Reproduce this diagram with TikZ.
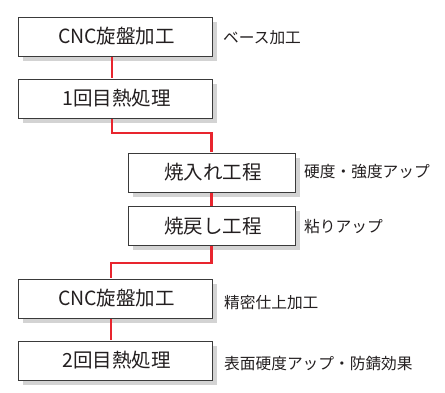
\documentclass[tikz,border=0pt]{standalone}
\usepackage{fontspec}
\setmainfont{Noto Sans CJK JP}
\usetikzlibrary{shadows}
\definecolor{linkred}{HTML}{E8252E}
\definecolor{boxline}{HTML}{3A3A3A}
\definecolor{shadowgray}{HTML}{D3D3D3}
\definecolor{txt}{HTML}{231F20}
\tikzset{
  procbox/.style={draw=boxline, line width=0.9pt, fill=white, text=txt,
    minimum height=39pt, inner sep=0pt, font=\fontsize{19.5}{19.5}\selectfont,
    drop shadow={shadow xshift=5pt, shadow yshift=-5pt, fill=shadowgray, opacity=1}},
  widebox/.style={procbox, minimum width=194pt},
  narrowbox/.style={procbox, minimum width=167pt},
  note/.style={anchor=west, inner sep=0pt, text=txt, font=\fontsize{15.7}{15.7}\selectfont},
  link/.style={draw=linkred, line width=2.5pt}
}
\begin{document}
\begin{tikzpicture}[x=1pt, y=-1pt]
\useasboundingbox (0,0) rectangle (445,393);
\node[widebox] (b1) at (115,36.5) {\raisebox{-2pt}{\hspace{3pt}CNC旋盤加工}};
\node[widebox] (b2) at (115,98.5) {\raisebox{-2pt}{\hspace{3pt}1回目熱処理}};
\node[narrowbox] (b3) at (211.5,172.5) {\raisebox{-2pt}{\hspace{3pt}焼入れ工程}};
\node[narrowbox] (b4) at (211.5,226) {\raisebox{-2pt}{\hspace{3pt}焼戻し工程}};
\node[widebox] (b5) at (115,298.5) {\raisebox{-2pt}{\hspace{3pt}CNC旋盤加工}};
\node[widebox] (b6) at (115,360.5) {\raisebox{-2pt}{\hspace{3pt}2回目熱処理}};
\coordinate (j1) at (160,133);
\coordinate (j2) at (160,263);
\draw[link] ([xshift=-3pt,yshift=-0.5pt]b1.south) -- ([xshift=-3pt,yshift=0.5pt]b2.north);
\draw[link] ([xshift=-3pt,yshift=-0.5pt]b2.south) |- (j1) -| ([yshift=0.5pt]b3.north);
\draw[link] ([yshift=-0.5pt]b3.south) -- ([yshift=0.5pt]b4.north);
\draw[link] ([yshift=-0.5pt]b4.south) |- (j2) -| ([xshift=-4pt,yshift=0.5pt]b5.north);
\draw[link] ([xshift=-4pt,yshift=-0.5pt]b5.south) -- ([xshift=-4pt,yshift=0.5pt]b6.north);
\node[note] (n1) at (223,38) {ベース加工};
\node[note] (n3) at (304,172) {硬度・強度アップ};
\node[note] (n4) at (304,226.5) {粘りアップ};
\node[note] (n5) at (224,303) {精密仕上加工};
\node[note] (n6) at (224,363.5) {表面硬度アップ・防錆効果};
\end{tikzpicture}
\end{document}
